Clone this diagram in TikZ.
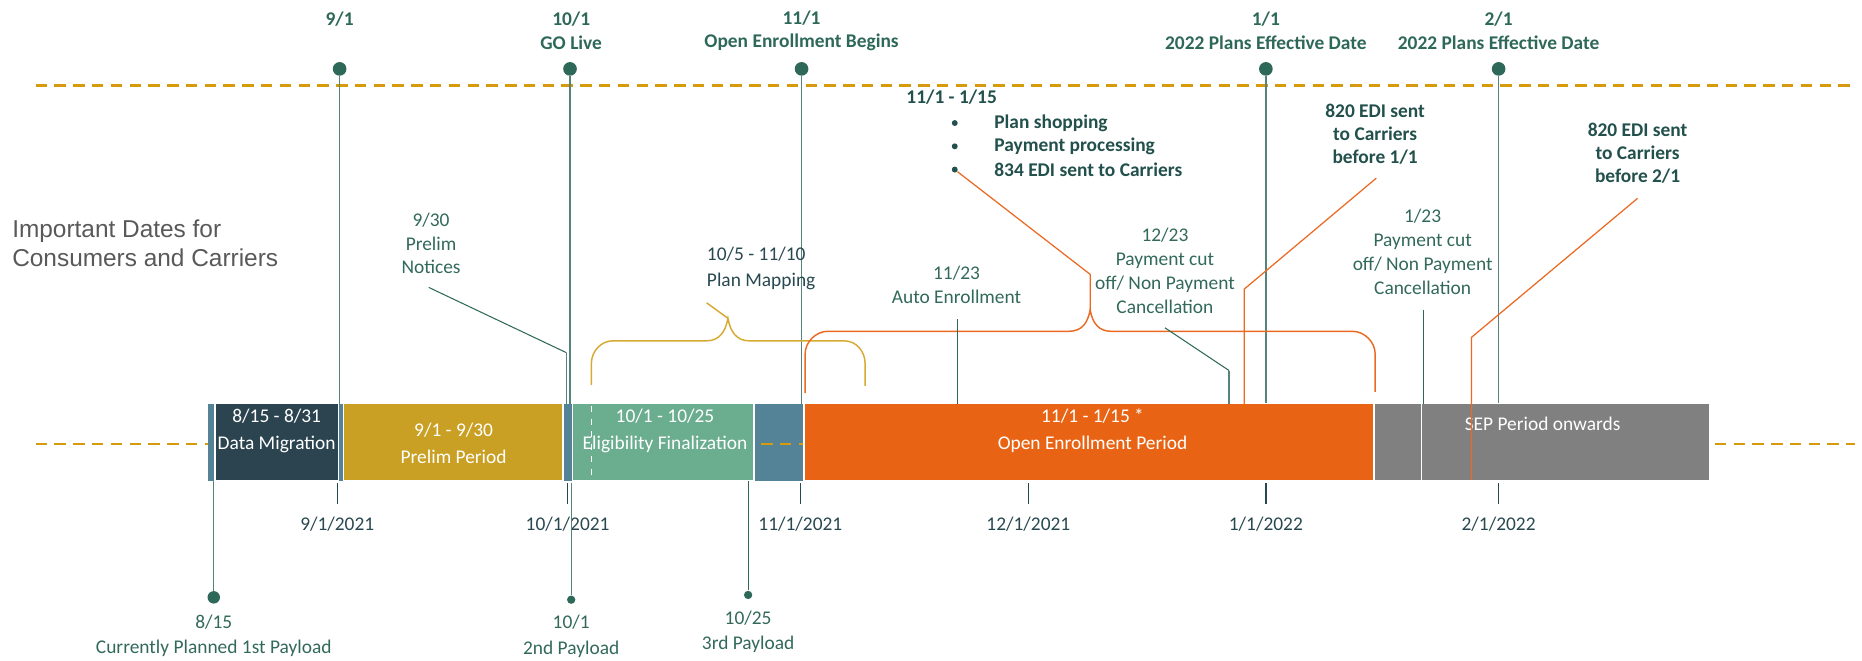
\documentclass[tikz,border=0pt]{standalone}
\usepackage{fontspec}
\setmainfont{Carlito}
\newfontfamily\titlefont{Liberation Sans}
\usetikzlibrary{positioning}

\definecolor{tealdot}{RGB}{46,104,88}
\definecolor{tealline}{RGB}{84,132,122}
\definecolor{tealtext}{RGB}{50,105,90}
\definecolor{darkteal}{RGB}{34,80,76}
\definecolor{slatetext}{RGB}{40,72,80}
\definecolor{dashgold}{RGB}{214,155,12}
\definecolor{segdark}{RGB}{44,68,80}
\definecolor{segblue}{RGB}{84,131,152}
\definecolor{seggold}{RGB}{201,160,36}
\definecolor{seggreen}{RGB}{106,173,143}
\definecolor{segorange}{RGB}{232,100,20}
\definecolor{seggray}{RGB}{128,128,128}
\definecolor{bracegold}{RGB}{214,170,50}
\definecolor{leadorange}{RGB}{234,106,36}
\definecolor{titlegray}{RGB}{89,89,89}

\tikzset{
        lbl/.style={align=center, inner sep=0pt, text=tealtext, font=\fontsize{9.3}{11.4}\selectfont},
        % Bold labels
        lbl_bold/.style={lbl, text=darkteal, font=\fontsize{9.3}{11}\selectfont\bfseries},
        lbl_top/.style={lbl, text=tealdot, font=\fontsize{9.3}{11.3}\selectfont\bfseries},
        % Axis dates and payloads
        lbl_date/.style={lbl, text=slatetext},
        lbl_pay/.style={lbl, font=\fontsize{9.3}{12.2}\selectfont},
        % Text inside the bar
        lbl_bar/.style={lbl, text=white, font=\fontsize{9.3}{13}\selectfont},
        % Dots
        dot_big/.style={circle, fill=tealdot, inner sep=0pt, minimum size=0.23cm},
        dot_small/.style={circle, fill=tealdot, inner sep=0pt, minimum size=0.14cm},
        bullet/.style={circle, fill=darkteal, inner sep=0pt, minimum size=0.1cm},
        % Lines
        mline/.style={draw=tealline, line width=0.6pt},
        lead_teal/.style={draw=tealdot, line width=0.5pt},
        tick/.style={draw=slatetext, line width=0.6pt},
        dash_gold/.style={draw=dashgold, line width=1.3pt, dash pattern=on 5.5pt off 3.5pt},
        seg/.style={draw=white, line width=0.6pt},
        lead_orange/.style={draw=leadorange, line width=0.6pt},
        brace_gold/.style={draw=bracegold, line width=0.7pt},
        brace_orange/.style={draw=leadorange, line width=0.7pt}
}

\begin{document}
\begin{tikzpicture}[x=0.02cm, y=-0.02cm]
    \useasboundingbox (0,0) rectangle (1568,556);

    % guide lines
    \draw[dash_gold] (30,72) -- (1562,72);
    \draw[dash_gold] (30,374) -- (175,374);
    \draw[dash_gold] (1444,374) -- (1562,374);

    \node[anchor=west, align=left, inner sep=0pt, text=titlegray,
          font=\titlefont\fontsize{11.7}{13.6}\selectfont] (title) at (10,205)
          {Important Dates for\\Consumers and Carriers};

    % top milestones
    \foreach \name/\xx in {m91/286, m101/480, m111/675, m11/1066, m21/1262} {
        \node[dot_big] (\name) at (\xx,58) {};
        \coordinate (\name-bar) at (\xx,340);
        \draw[mline] (\name) -- (\name-bar);
    }
    \node[lbl_top] (t91) at (286,16) {9/1};
    \node[lbl_top] (t101) at (481,26) {10/1\\GO Live};
    \node[lbl_top] (t111) at (675,26) {11/1\\Open Enrollment Begins};
    \node[lbl_top] (t11) at (1066,26) {1/1\\2022 Plans Effective Date};
    \node[lbl_top] (t21) at (1262,26) {2/1\\2022 Plans Effective Date};

    % the bar
    \fill[segblue] (175,340) rectangle (677,405);
    \draw[dash_gold] (641,374) -- (677,374);
    \filldraw[seg, fill=segdark] (181,340) rectangle (285,405);
    \filldraw[seg, fill=seggold] (289,340) rectangle (474,405);
    \filldraw[seg, fill=seggreen] (482,340) rectangle (635,405);
    \filldraw[seg, fill=segorange] (677,340) rectangle (1157,405);
    \filldraw[seg, fill=seggray] (1157,340) rectangle (1197,405);
    \filldraw[seg, fill=seggray] (1197,340) rectangle (1440,405);
    \draw[white, dashed, line width=0.6pt] (498,342) -- (498,403);

    \node[lbl_bar] (dm) at (233,363) {8/15 - 8/31\\Data Migration};
    \node[lbl_bar] (pp) at (382,373) {9/1 - 9/30\\Prelim Period};
    \node[lbl_bar] (ef) at (560,363) {10/1 - 10/25\\Eligibility Finalization};
    \node[lbl_bar] (oe) at (920,363) {11/1 - 1/15 *\\Open Enrollment Period};
    \node[lbl_bar] (sep) at (1299,357) {SEP Period onwards};

    % axis ticks
    \foreach \name/\xx/\txt in {k91/284/{9/1/2021}, k101/478/{10/1/2021}, k111/674/{11/1/2021},
                                k121/866/{12/1/2021}, k11/1066/{1/1/2022}, k21/1262/{2/1/2022}} {
        \coordinate (\name-a) at (\xx,407);
        \coordinate (\name-b) at (\xx,424);
        \draw[tick] (\name-a) -- (\name-b);
        \node[lbl_date] (\name) at (\xx,441) {\txt};
    }

    % payloads
    \coordinate (p1-bar) at (180,405);
    \coordinate (p2-bar) at (481,407);
    \coordinate (p3-bar) at (630,405);
    \node[dot_big, minimum size=0.21cm] (d1) at (180,503) {};
    \node[dot_small] (d2) at (481,505) {};
    \node[dot_small] (d3) at (630,501) {};
    \draw[mline] (p1-bar) -- (d1);
    \draw[mline] (p2-bar) -- (d2);
    \draw[lead_teal] (p3-bar) -- (d3);
    \node[lbl_pay] (p1) at (180,535.5) {8/15\\Currently Planned 1st Payload};
    \node[lbl_pay] (p2) at (481,536) {10/1\\2nd Payload};
    \node[lbl_pay] (p3) at (630,532) {10/25\\3rd Payload};

    % 9/30 notices
    \node[lbl] (n930) at (363,205) {9/30\\Prelim\\Notices};
    \coordinate (n930-a) at (361,242);
    \coordinate (n930-b) at (477,297);
    \coordinate (n930-c) at (477,340);
    \draw[lead_teal] (n930-a) -- (n930-b);
    \draw[mline] (n930-b) -- (n930-c);

    % plan mapping brace
    \draw[brace_gold] (498,324) -- (498,306)
        .. controls (498,296) and (506,287) .. (516,287) -- (595,287)
        .. controls (606,287) and (611,279) .. (613,268)
        .. controls (615,279) and (620,287) .. (631,287) -- (711,287)
        .. controls (721,287) and (728.5,296) .. (728.5,306) -- (728.5,325);
    \coordinate (pm-tip) at (613,268);
    \coordinate (pm-end) at (595,255);
    \draw[brace_gold] (pm-tip) -- (pm-end);
    \node[lbl, anchor=west, align=left, text=slatetext, font=\fontsize{9.3}{12.2}\selectfont] (pm) at (595,226)
        {10/5 - 11/10\\Plan Mapping};

    % open enrollment brace
    \draw[brace_orange] (678,331) -- (678,298)
        .. controls (678,288) and (687,279) .. (697,279) -- (900,279)
        .. controls (911,279) and (916,272) .. (918,261)
        .. controls (920,272) and (925,279) .. (936,279) -- (1139,279)
        .. controls (1149,279) and (1158,288) .. (1158,298) -- (1158,330);

    \node[lbl_bold, anchor=west] (oer) at (763,82) {11/1 - 1/15};
    \node[bullet] (b1) at (804,103.6) {};
    \node[bullet] (b2) at (804,123.2) {};
    \node[bullet] (b3) at (804,142.8) {};
    \node[lbl_bold, anchor=west] (s1) at (837,104) {Plan shopping};
    \node[lbl_bold, anchor=west] (s2) at (837,123.6) {Payment processing};
    \node[lbl_bold, anchor=west] (s3) at (837,143) {834 EDI sent to Carriers};
    \coordinate (oe-bend) at (918,231);
    \coordinate (oe-tip) at (918,261);
    \draw[lead_orange] (b3) -- (oe-bend) -- (oe-tip);

    % auto enrollment
    \node[lbl] (n1123) at (805.5,240) {11/23\\Auto Enrollment};
    \coordinate (n1123-a) at (806,269);
    \coordinate (n1123-b) at (806,340);
    \draw[lead_teal] (n1123-a) -- (n1123-b);

    % payment cut off 12/23
    \node[lbl] (n1223) at (981,228) {12/23\\Payment cut\\off/ Non Payment\\Cancellation};
    \coordinate (n1223-a) at (981,276);
    \coordinate (n1223-b) at (1035,312);
    \coordinate (n1223-c) at (1035,340);
    \draw[lead_teal] (n1223-a) -- (n1223-b);
    \draw[mline] (n1223-b) -- (n1223-c);

    % payment cut off 1/23
    \node[lbl] (n123) at (1198,212) {1/23\\Payment cut\\off/ Non Payment\\Cancellation};
    \coordinate (n123-a) at (1198.5,261);
    \coordinate (n123-b) at (1198.5,340);
    \draw[lead_teal] (n123-a) -- (n123-b);

    % 820 EDI before 1/1
    \node[lbl_bold] (e11) at (1158,113) {820 EDI sent\\to Carriers\\before 1/1};
    \coordinate (e11-a) at (1159,150);
    \coordinate (e11-b) at (1047.7,243.5);
    \coordinate (e11-c) at (1047.7,340);
    \draw[lead_orange] (e11-a) -- (e11-b) -- (e11-c);

    % 820 EDI before 2/1
    \node[lbl_bold] (e21) at (1379,129.4) {820 EDI sent\\to Carriers\\before 2/1};
    \coordinate (e21-a) at (1379,167);
    \coordinate (e21-b) at (1239.2,284);
    \coordinate (e21-c) at (1239.2,404);
    \draw[lead_orange] (e21-a) -- (e21-b) -- (e21-c);
\end{tikzpicture}
\end{document}
